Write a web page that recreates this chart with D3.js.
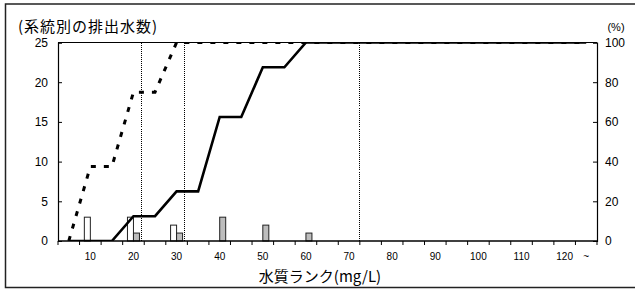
<!DOCTYPE html>
<html><head><meta charset="utf-8">
<script src="https://cdn.jsdelivr.net/npm/d3@7"></script>
<style>
html,body{margin:0;padding:0;background:#fff;}
svg{display:block;}
</style></head>
<body>
<svg id="chart" width="635" height="298"></svg>
<script>
// ---- data ----
const categories = ["5","10","15","20","25","30","35","40","45","50","55","60","65","70","75","80","85","90","95","100","105","110","115","120","~"];
const tickLabelCats = ["10","20","30","40","50","60","70","80","90","100","110","120","~"];
// counts per category (left axis)
const countsA = [0,3,0,3,0,2,0,0,0,0,0,0,0,0,0,0,0,0,0,0,0,0,0,0,0]; // white bars
const countsB = [0,0,0,1,0,1,0,3,0,2,0,1,0,0,0,0,0,0,0,0,0,0,0,0,0]; // gray bars
// cumulative percentage (right axis)
const cumA = [0,37.5,37.5,75,75,100,100,100,100,100,100,100,100,100,100,100,100,100,100,100,100,100,100,100,100]; // dashed
const cumB = [0,0,0,12.5,12.5,25,25,62.5,62.5,87.5,87.5,100,100,100,100,100,100,100,100,100,100,100,100,100,100]; // solid
// reference lines (mg/L)
const refLines = [21.7, 31.8, 72.4];
const leftTicks = [0,5,10,15,20,25];
const rightTicks = [0,20,40,60,80,100];

// ---- layout ----
const svg = d3.select("#chart");
const L = 58, R = 597, T = 42.5, B = 241;
const x = d3.scaleBand().domain(categories).range([L, R]).padding(0);
const bw = x.bandwidth();
const xc = c => x(c) + bw / 2;
const xv = d3.scaleLinear().domain([5, 10]).range([xc("5"), xc("10")]);
const yL = d3.scaleLinear().domain([0, 25]).range([B, T]);
const yR = d3.scaleLinear().domain([0, 100]).range([B, T]);
const sub = d3.scaleBand().domain(["A","B"]).range([bw/2 - 6, bw/2 + 6]).padding(0);

const numFont = "'Liberation Sans', Arial, sans-serif";
const cjkFont = "'Noto Sans CJK JP', sans-serif";

// outer frame
svg.append("rect").attr("x", 5.5).attr("y", 4).attr("width", 640).attr("height", 283.5)
  .attr("fill", "none").attr("stroke", "#222").attr("stroke-width", 1.5);

// clip
svg.append("clipPath").attr("id", "pc").append("rect")
  .attr("x", L).attr("y", T).attr("width", R - L).attr("height", B - T);

// reference dotted lines
svg.append("g").selectAll("line").data(refLines).join("line")
  .attr("x1", d => Math.round(xv(d)) + 0.5).attr("x2", d => Math.round(xv(d)) + 0.5)
  .attr("y1", T).attr("y2", B)
  .attr("stroke", "#000").attr("stroke-width", 1).attr("stroke-dasharray", "1,1")
  .attr("shape-rendering", "crispEdges");

// bars
const gBars = svg.append("g");
gBars.selectAll("rect.a").data(categories.map((c, i) => ({c, v: countsA[i]})).filter(d => d.v > 0))
  .join("rect").attr("class", "a")
  .attr("x", d => x(d.c) + sub("A")).attr("width", sub.bandwidth())
  .attr("y", d => yL(d.v)).attr("height", d => B - yL(d.v))
  .attr("fill", "#fff").attr("stroke", "#222").attr("stroke-width", 1);
gBars.selectAll("rect.b").data(categories.map((c, i) => ({c, v: countsB[i]})).filter(d => d.v > 0))
  .join("rect").attr("class", "b")
  .attr("x", d => x(d.c) + sub("B")).attr("width", sub.bandwidth())
  .attr("y", d => yL(d.v)).attr("height", d => B - yL(d.v))
  .attr("fill", "#bdbdbd").attr("stroke", "#222").attr("stroke-width", 1);

// lines
const line = d3.line().x(d => xc(d.c)).y(d => yR(d.v));
const gLines = svg.append("g").attr("clip-path", "url(#pc)");
gLines.append("path").datum(categories.map((c, i) => ({c, v: cumB[i]})))
  .attr("d", line).attr("fill", "none").attr("stroke", "#000").attr("stroke-width", 2.6)
  .attr("stroke-linejoin", "miter");
gLines.append("path").datum(categories.map((c, i) => ({c, v: cumA[i]})))
  .attr("d", line).attr("fill", "none").attr("stroke", "#000").attr("stroke-width", 3)
  .attr("stroke-dasharray", "5,8");

// plot border top
svg.append("line").attr("x1", L).attr("x2", R).attr("y1", T).attr("y2", T)
  .attr("stroke", "#000").attr("stroke-width", 1);

// left axis
const axL = svg.append("g").attr("transform", `translate(${L},0)`)
  .call(d3.axisRight(yL).tickValues(leftTicks).tickSize(4).tickFormat(d3.format("d")));
axL.select(".domain").attr("stroke", "#000").attr("stroke-width", 1.2);
axL.selectAll(".tick text").attr("x", -10).attr("text-anchor", "end")
  .attr("font-family", numFont).attr("font-size", 12).attr("fill", "#000");

// right axis
const axR = svg.append("g").attr("transform", `translate(${R},0)`)
  .call(d3.axisLeft(yR).tickValues(rightTicks).tickSize(4).tickFormat(d3.format("d")));
axR.select(".domain").attr("stroke", "#000").attr("stroke-width", 1.2);
axR.selectAll(".tick text").attr("x", 8).attr("text-anchor", "start")
  .attr("font-family", numFont).attr("font-size", 12).attr("fill", "#000");

// x axis (ticks between categories)
const gx = svg.append("g").attr("transform", `translate(0,${B})`);
gx.append("line").attr("x1", L).attr("x2", R).attr("stroke", "#000").attr("stroke-width", 1.5);
gx.selectAll("line.t").data(categories.concat(["_end"])).join("line").attr("class", "t")
  .attr("x1", (d, i) => L + i * bw).attr("x2", (d, i) => L + i * bw)
  .attr("y1", 0).attr("y2", 4).attr("stroke", "#000");
gx.selectAll("text").data(tickLabelCats).join("text")
  .attr("x", d => xc(d)).attr("y", 19).attr("text-anchor", "middle")
  .attr("font-family", numFont).attr("font-size", 10).text(d => d);

// titles
svg.append("text").attr("x", 18).attr("y", 32).attr("font-family", cjkFont)
  .attr("font-size", 15).attr("letter-spacing", 1).text("(系統別の排出水数)");
svg.append("text").attr("x", 616).attr("y", 31).attr("text-anchor", "middle")
  .attr("font-family", numFont).attr("font-size", 11).text("(%)");
svg.append("text").attr("x", 320).attr("y", 282).attr("text-anchor", "middle")
  .attr("font-family", cjkFont).attr("font-size", 15).text("水質ランク(mg/L)");
</script>
</body></html>
